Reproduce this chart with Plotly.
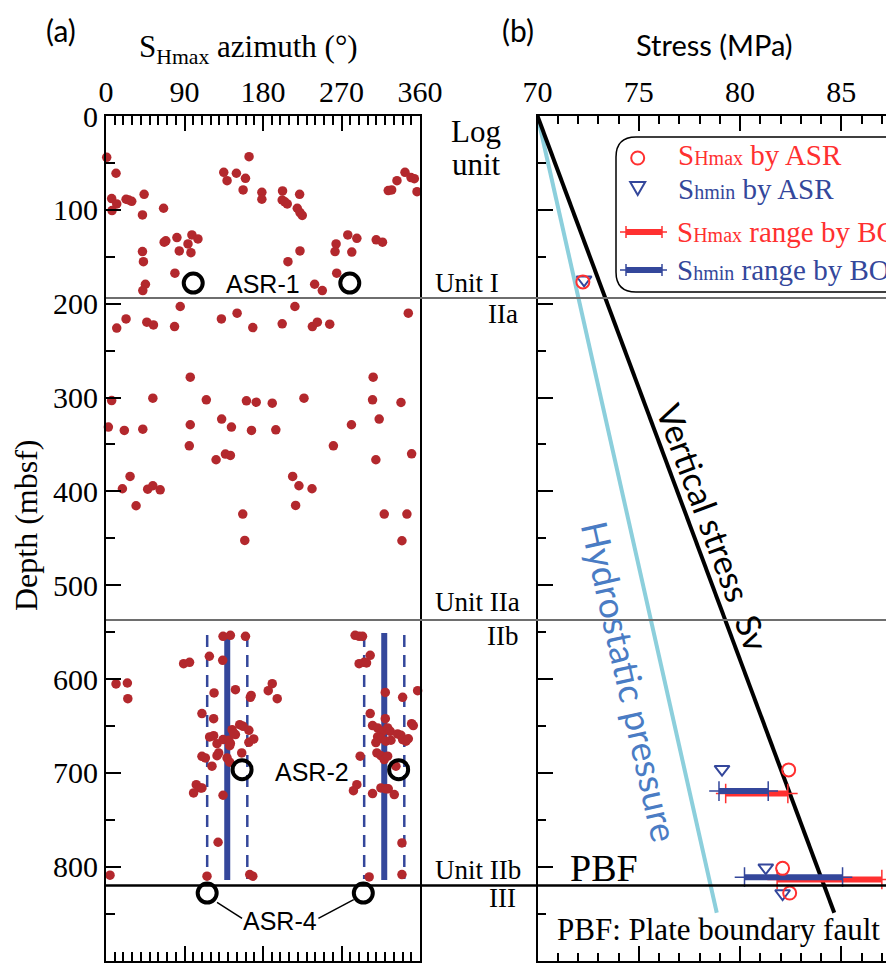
import plotly.graph_objects as go

# The page adds an 8px body margin; the figure is sized so that it fills the window exactly.
OFF = 8
W, H = 894 - OFF, 966 - OFF

# ---------------- Panel (a): SHmax azimuth vs depth ----------------
dot_azimuth = [
    0.8, 11.5, 6.5, 12.3, 6.9, 23, 26, 29.5, 43.7, 41.8, 66, 41.8, 42.9, 45.2, 42.2, 66.7, 68.6, 81.3, 84, 94,
    98.5, 105.4, 97.4, 79, 135, 138.8, 149.5, 159.9, 164, 157.2, 178.7, 178.7, 202.4, 202, 207.8, 205, 222,
    219.3, 222.4, 225, 222.4, 208.6, 239.2, 248, 263.8, 262.6, 277.2, 287.6, 281.8, 264.5, 309.8, 317, 323.6,
    327.5, 333.6, 342.8, 349.7, 353.5, 356.6,
    85.1, 12.3, 23, 46.8, 54.4, 78.6, 132.3, 150.3, 168.3, 202, 216.6, 236.6, 242.3, 256.5, 346.6,
    96.6, 306.3, 6.5, 53.7, 115, 161, 172.2, 190.6, 227, 305.6, 338.2,
    2.7, 21, 42.2, 96.6, 132.6, 143.8, 166.8, 194.7, 281.4, 313.2,
    95.5, 260.7, 309.4, 126.2, 136.9, 142.6, 350.4,
    27.6, 18.8, 47.8, 53.7, 62.1, 34.5, 214, 221.2, 236.2, 217.4,
    156.8, 159.1, 319, 345, 339.3,
    89, 95.8, 11.5, 24.5, 25, 4.6,
    118.5, 134.2, 142.6, 159.9, 133.8, 123.9, 148.4, 166.4, 165.5, 190.6, 186, 196.3, 110, 123.4,
    144.6, 153.3, 157.2, 163.8, 148.4, 118.8, 123.4, 127.3, 134.2, 140.7, 141.8, 163.8, 169.4, 146.4, 142.6,
    110, 113.9, 127.3, 129.2, 138.8, 141.8, 155.6, 121.5, 103.5, 108.1, 100.4, 110, 134.2, 128.5, 115.8,
    164.8, 168.3,
    285.6, 290.2, 294.1, 290.2, 296, 302.9, 298.7, 320.2, 340.1, 357.3, 360.3, 302.9, 320.2,
    305.6, 311.4, 317.1, 322.9, 325.9, 334.3, 338.2, 350.4, 352.3,
    311.4, 315.2, 320.9, 326.7, 309.4, 340.1, 343.9, 346.6,
    310.6, 315.2, 319, 322.9, 291.4, 332.4, 287.6, 283.7, 305.6, 315.2, 320.9, 323.6, 330.5, 339.3, 301.7,
    339.3,
]
dot_depth = [
    44, 61, 88, 93.7, 100.8, 88.7, 89.5, 90.9, 83.4, 105.4, 98.3, 144.5, 155.2, 179.3, 186, 134.5, 133, 129.6,
    143.8, 136.3, 126.7, 131, 145.6, 167.5, 60, 68.9, 61, 66.4, 43.3, 78.8, 81.3, 88.7, 79.9, 89.5, 93.7, 91.5,
    83.4, 98.3, 102.9, 106, 143.8, 155.2, 179.3, 186, 136.3, 144.5, 126.7, 130.3, 145, 167.5, 132, 134.5, 79.5,
    78.8, 68.9, 60, 65.6, 66.8, 80.6,
    203, 226, 216.2, 219.7, 222.6, 224.4, 216.2, 210.1, 225.5, 221.5, 203, 224.4, 219.7, 221.8, 210.1,
    278.3, 278.3, 303.2, 300.7, 302.4, 303.5, 305, 306, 300.7, 302.4, 305.3,
    331.5, 335.1, 333.7, 329, 323, 331.5, 335.1, 334.4, 329, 323,
    351.4, 351.4, 366.3, 366.3, 360.3, 361.7, 360,
    384.1, 397.2, 397.6, 394, 398.3, 415.3, 384.1, 394, 397.2, 415,
    424.2, 452.3, 424.2, 424.2, 452.6,
    583.6, 582.2, 605.2, 604.2, 620.9, 809,
    575.7, 554.5, 553.4, 554.5, 580, 614.8, 611.3, 617.4, 619.5, 604.9, 612.4, 620.9, 636.8, 642.2,
    653.9, 648.6, 650.4, 654.6, 659.2, 661.7, 660.3, 668.8, 664.5, 665.3, 671, 667.4, 663.8, 657.5, 668.6,
    682.3, 684, 681.6, 678.7, 684, 688.6, 678.7, 692.8, 712.5, 716, 721.3, 716, 723.8, 773.9, 810,
    808.3, 810,
    553.4, 554.5, 554.5, 583.6, 582.2, 574.7, 582.8, 614.2, 619.5, 612.4, 612, 636.8, 642.2,
    649.6, 652.1, 655.7, 652.1, 655.7, 658.5, 659.9, 647.5, 649.6,
    661.6, 663.4, 666.2, 665.2, 667.7, 664.5, 666.2, 663.6,
    678.7, 681.6, 685.8, 682.2, 682.2, 692.9, 712.5, 718.9, 722, 716, 717, 717, 723.1, 774.6, 810.8,
    808.3,
]

asr_azimuth = [100, 279.5, 156, 335.5, 116, 295]
asr_depth = [178, 178, 696.5, 696.5, 828, 828]
asr_names = ["ASR-1", "ASR-2", "ASR-4"]

bo_azimuth_mean = [139, 319]
bo_azimuth_bounds = [116, 162, 296, 342]
bo_mean_depth_range = [551, 814]
bo_bound_depth_range = [553, 813]

unit_boundary_depth = [194, 537, 820]

# ---------------- Panel (b): stress vs depth ----------------
sv_depth = [0, 849]
sv_stress = [70, 84.65]
ph_depth = [0, 849]
ph_stress = [70, 78.85]

shmax_asr_depth = [176.8, 696.8, 801.7, 828]
shmax_asr_stress = [72.24, 82.4, 82.1, 82.45]
shmin_asr_depth = [174.5, 696, 801, 828.5]
shmin_asr_stress = [72.3, 79.11, 81.27, 82.1]

shmax_bo_depth = [722, 813.6]
shmax_bo_low = [79.29, 81.83]
shmax_bo_high = [82.36, 87.0]
shmin_bo_depth = [719.4, 811.1]
shmin_bo_low = [78.96, 80.22]
shmin_bo_high = [81.39, 85.06]

x_ticks_a = [0, 90, 180, 270, 360]
x_ticks_b = [70, 75, 80, 85]
y_ticks = list(range(0, 901, 100))

RED = "#ff3030"
BLUE = "#34479b"
DOT = "#b3282d"
SERIF = "Liberation Serif"
SANS = "Lato"


def px(x):
    """window pixel x -> paper fraction"""
    return (x - OFF) / W


def py(y):
    """window pixel y -> paper fraction"""
    return 1 - (y - OFF) / H


Y_DOMAIN = [py(960.6), py(116)]

fig = go.Figure()

# blue BO azimuth lines (panel a)
xs, ys = [], []
for a in bo_azimuth_bounds:
    xs += [a, a, None]
    ys += [bo_bound_depth_range[0], bo_bound_depth_range[1], None]
fig.add_trace(go.Scatter(x=xs, y=ys, mode="lines", line=dict(color=BLUE, width=2.5, dash="12px,8px"),
                         xaxis="x", yaxis="y", showlegend=False, hoverinfo="skip"))
xs, ys = [], []
for a in bo_azimuth_mean:
    xs += [a, a, None]
    ys += [bo_mean_depth_range[0], bo_mean_depth_range[1], None]
fig.add_trace(go.Scatter(x=xs, y=ys, mode="lines", line=dict(color=BLUE, width=6),
                         xaxis="x", yaxis="y", showlegend=False, hoverinfo="skip"))

# azimuth dots
fig.add_trace(go.Scatter(x=dot_azimuth, y=dot_depth, mode="markers",
                         marker=dict(color=DOT, size=9.5, line=dict(width=0)),
                         xaxis="x", yaxis="y", showlegend=False, cliponaxis=False))

# ASR circles
fig.add_trace(go.Scatter(x=asr_azimuth, y=asr_depth, mode="markers",
                         marker=dict(symbol="circle-open", size=19, color="black", line=dict(width=4, color="black")),
                         xaxis="x", yaxis="y", showlegend=False, cliponaxis=False))

# Panel b lines
fig.add_trace(go.Scatter(x=ph_stress, y=ph_depth, mode="lines", line=dict(color="#8ccfdc", width=4),
                         xaxis="x2", yaxis="y2", showlegend=False))
fig.add_trace(go.Scatter(x=sv_stress, y=sv_depth, mode="lines", line=dict(color="black", width=4),
                         xaxis="x2", yaxis="y2", showlegend=False))


def range_trace(low, high, depth, color):
    xs, ys = [], []
    for lo, hi, d in zip(low, high, depth):
        xs += [lo, hi, None]
        ys += [d, d, None]
    fig.add_trace(go.Scatter(x=xs, y=ys, mode="lines", line=dict(color=color, width=6),
                             xaxis="x2", yaxis="y2", showlegend=False))
    ex, ey = [], []
    for lo, hi, d in zip(low, high, depth):
        ex += [lo, hi]
        ey += [d, d]
    fig.add_trace(go.Scatter(x=ex, y=ey, mode="markers",
                             marker=dict(symbol="cross-thin", size=14, line=dict(color=color, width=1.5)),
                             xaxis="x2", yaxis="y2", showlegend=False, cliponaxis=False))


range_trace(shmax_bo_low, shmax_bo_high, shmax_bo_depth, RED)
range_trace(shmin_bo_low, shmin_bo_high, shmin_bo_depth, BLUE)

fig.add_trace(go.Scatter(x=shmin_asr_stress, y=shmin_asr_depth, mode="markers",
                         marker=dict(symbol="triangle-down-open", size=13, color=BLUE, line=dict(width=2, color=BLUE)),
                         xaxis="x2", yaxis="y2", showlegend=False))
fig.add_trace(go.Scatter(x=shmax_asr_stress, y=shmax_asr_depth, mode="markers",
                         marker=dict(symbol="circle-open", size=13, color=RED, line=dict(width=2, color=RED)),
                         xaxis="x2", yaxis="y2", showlegend=False))

shapes = []
# unit boundaries across both panels
for i, d in enumerate(unit_boundary_depth):
    last = i == len(unit_boundary_depth) - 1
    shapes.append(dict(type="line", xref="paper", yref="y", x0=px(106), x1=1.0, y0=d, y1=d,
                       line=dict(color="black" if last else "#6e6e6e", width=2.5 if last else 2)))

# ASR-4 leader lines
shapes.append(dict(type="line", xref="x", yref="y", x0=127.3, y0=838, x1=156, y1=855,
                   line=dict(color="black", width=1.5)))
shapes.append(dict(type="line", xref="x", yref="y", x0=284, y0=835, x1=243.5, y1=855,
                   line=dict(color="black", width=1.5)))

# legend box (rounded)
x0, y0, x1, y1, r = 616, 137, 910, 292, 20
path = (f"M {px(x0 + r)},{py(y0)} L {px(x1 - r)},{py(y0)} Q {px(x1)},{py(y0)} {px(x1)},{py(y0 + r)} "
        f"L {px(x1)},{py(y1 - r)} Q {px(x1)},{py(y1)} {px(x1 - r)},{py(y1)} "
        f"L {px(x0 + r)},{py(y1)} Q {px(x0)},{py(y1)} {px(x0)},{py(y1 - r)} "
        f"L {px(x0)},{py(y0 + r)} Q {px(x0)},{py(y0)} {px(x0 + r)},{py(y0)} Z")
shapes.append(dict(type="path", xref="paper", yref="paper", path=path, fillcolor="white",
                   line=dict(color="black", width=1.5), layer="above"))
# legend symbols
cx, cy = 637.7, 158
shapes.append(dict(type="circle", xref="paper", yref="paper", x0=px(cx - 6.5), x1=px(cx + 6.5),
                   y0=py(cy + 6.5), y1=py(cy - 6.5), line=dict(color=RED, width=2)))
ty = 188
tri = f"M {px(cx - 7.5)},{py(ty - 6)} L {px(cx + 7.5)},{py(ty - 6)} L {px(cx)},{py(ty + 7)} Z"
shapes.append(dict(type="path", xref="paper", yref="paper", path=tri, line=dict(color=BLUE, width=2)))
for ly, col in [(232, RED), (270, BLUE)]:
    shapes.append(dict(type="line", xref="paper", yref="paper", x0=px(620), x1=px(667), y0=py(ly), y1=py(ly),
                       line=dict(color=col, width=1.5)))
    shapes.append(dict(type="line", xref="paper", yref="paper", x0=px(626), x1=px(662), y0=py(ly), y1=py(ly),
                       line=dict(color=col, width=6)))
    for tx in (626, 662):
        shapes.append(dict(type="line", xref="paper", yref="paper", x0=px(tx), x1=px(tx),
                           y0=py(ly - 6), y1=py(ly + 6), line=dict(color=col, width=1.5)))

annotations = []


def ann(text, x, y, size, family, color="black", xanchor="center", yanchor="middle", angle=0):
    annotations.append(dict(text=text, x=px(x), y=py(y), xref="paper", yref="paper", showarrow=False,
                            xanchor=xanchor, yanchor=yanchor, textangle=angle,
                            font=dict(size=size, family=family, color=color)))


ann("(a)", 61, 30, 30, SANS)
ann("(b)", 518, 30, 30, SANS)
ann("S<sub>Hmax</sub> azimuth (°)", 248, 27, 31, SERIF, yanchor="top")
ann("Stress (MPa)", 714, 44, 29, SANS)
ann("Depth (mbsf)", 26, 525, 32, SERIF, angle=-90)
ann("Log", 476, 131.5, 31, SERIF)
ann("unit", 476, 164.5, 31, SERIF)
ann("Unit I", 433, 283, 27, SERIF, xanchor="left")
ann("IIa", 520, 314, 27, SERIF, xanchor="right")
ann("Unit IIa", 433, 602, 27, SERIF, xanchor="left")
ann("IIb", 520, 636, 27, SERIF, xanchor="right")
ann("Unit IIb", 433, 870, 27, SERIF, xanchor="left")
ann("III", 518, 898, 27, SERIF, xanchor="right")
ann(asr_names[0], 263, 284, 25, "Liberation Sans")
ann(asr_names[1], 312, 772, 25, "Liberation Sans")
ann(asr_names[2], 280, 921, 25, "Liberation Sans")
ann("Vertical stress  Sv", 714, 527, 34, SANS, angle=69.6)
ann("Hydrostatic pressure", 630, 681, 36, SANS, color="#4a7cc4", angle=77.3)
ann("PBF", 604, 868, 38, SERIF)
ann("PBF: Plate boundary fault", 718, 929, 31, SERIF)
small = '<span style="font-size:20px">'
ann(f"S{small}Hmax</span> by ASR", 676, 155, 29, SERIF, color=RED, xanchor="left")
ann(f"S{small}hmin</span> by ASR", 676, 189, 29, SERIF, color=BLUE, xanchor="left")
ann(f"S{small}Hmax</span> range by BO", 675, 232, 29, SERIF, color=RED, xanchor="left")
ann(f"S{small}hmin</span> range by BO", 675, 270, 29, SERIF, color=BLUE, xanchor="left")

tickfont = dict(family=SERIF, size=30, color="black")
common = dict(showgrid=False, zeroline=False, showline=True, linecolor="black", linewidth=2,
              ticks="inside", tickcolor="black", tickwidth=2, ticklen=15)

fig.update_layout(
    width=W, height=H, margin=dict(l=0, r=0, t=0, b=0, autoexpand=False),
    paper_bgcolor="white", plot_bgcolor="rgba(0,0,0,0)", showlegend=False,
    xaxis=dict(domain=[px(106), px(420)], range=[0, 360], side="top", anchor="y",
               tickvals=x_ticks_a, ticktext=[str(v) for v in x_ticks_a], tickfont=tickfont, mirror="ticks",
               minor=dict(dtick=10, tick0=0, ticks="inside", ticklen=9, tickwidth=2, tickcolor="black"),
               **common),
    yaxis=dict(domain=Y_DOMAIN, range=[900, 0], anchor="x", tickvals=y_ticks,
               ticktext=[str(v) for v in y_ticks], tickfont=tickfont, mirror=True,
               minor=dict(dtick=50, tick0=0, ticks="inside", ticklen=9, tickwidth=2, tickcolor="black"),
               **common),
    xaxis2=dict(domain=[px(537.5), 1.0], range=[70, 87.6], side="top", anchor="y2",
                tickvals=x_ticks_b, ticktext=[str(v) for v in x_ticks_b], tickfont=tickfont, mirror="ticks",
                minor=dict(dtick=1, tick0=70, ticks="inside", ticklen=8, tickwidth=2, tickcolor="black"),
                **common),
    yaxis2=dict(domain=Y_DOMAIN, range=[900, 0], anchor="x2", tickvals=y_ticks, showticklabels=False,
                mirror=True,
                minor=dict(dtick=50, tick0=0, ticks="inside", ticklen=8, tickwidth=2, tickcolor="black"),
                **common),
    shapes=shapes, annotations=annotations,
)

fig.write_html("out.html")
